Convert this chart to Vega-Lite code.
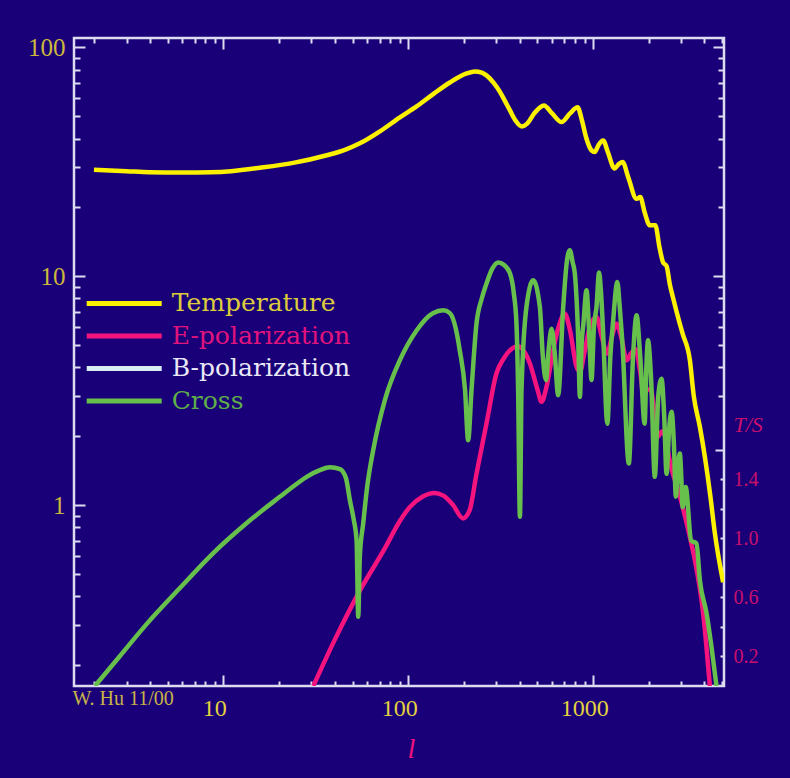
{
 "$schema": "https://vega.github.io/schema/vega-lite/v6.json",
 "width": 650, "height": 648,
 "autosize": {"type": "none"},
 "padding": {"left": 74, "top": 38, "right": 66, "bottom": 92},
 "background": "#1a0078",
 "config": {"view": {"stroke": "#dcdcf0", "strokeWidth": 2.5}, "axis": {"grid": false, "domain": false, "tickColor": "#dcdcf0", "tickWidth": 2, "labelFlush": false}},
 "data": {"values": [
  {"s":"E-polarization","l":30.7,"v":0.162},{"s":"E-polarization","l":40,"v":0.257},{"s":"E-polarization","l":55,"v":0.425},{"s":"E-polarization","l":75,"v":0.65},{"s":"E-polarization","l":90,"v":0.85},{"s":"E-polarization","l":102,"v":0.98},{"s":"E-polarization","l":120,"v":1.09},{"s":"E-polarization","l":138,"v":1.13},{"s":"E-polarization","l":155,"v":1.1},{"s":"E-polarization","l":175,"v":1.0},{"s":"E-polarization","l":198,"v":0.875},{"s":"E-polarization","l":215,"v":0.95},{"s":"E-polarization","l":234,"v":1.37},{"s":"E-polarization","l":265,"v":2.27},{"s":"E-polarization","l":300,"v":3.76},{"s":"E-polarization","l":330,"v":4.4},{"s":"E-polarization","l":355,"v":4.75},{"s":"E-polarization","l":393,"v":4.95},{"s":"E-polarization","l":430,"v":4.6},{"s":"E-polarization","l":455,"v":4.16},{"s":"E-polarization","l":500,"v":3.2},{"s":"E-polarization","l":526,"v":2.83},{"s":"E-polarization","l":560,"v":3.3},{"s":"E-polarization","l":608,"v":4.75},{"s":"E-polarization","l":650,"v":6.0},{"s":"E-polarization","l":702,"v":6.87},{"s":"E-polarization","l":750,"v":5.8},{"s":"E-polarization","l":813,"v":4.02},{"s":"E-polarization","l":848,"v":3.82},{"s":"E-polarization","l":900,"v":4.7},{"s":"E-polarization","l":960,"v":6.0},{"s":"E-polarization","l":1043,"v":6.64},{"s":"E-polarization","l":1110,"v":5.5},{"s":"E-polarization","l":1190,"v":4.6},{"s":"E-polarization","l":1260,"v":5.4},{"s":"E-polarization","l":1337,"v":6.2},{"s":"E-polarization","l":1420,"v":5.4},{"s":"E-polarization","l":1520,"v":4.3},{"s":"E-polarization","l":1600,"v":4.6},{"s":"E-polarization","l":1700,"v":4.8},{"s":"E-polarization","l":1790,"v":3.9},{"s":"E-polarization","l":1880,"v":3.0},{"s":"E-polarization","l":1960,"v":3.2},{"s":"E-polarization","l":2050,"v":3.2},{"s":"E-polarization","l":2150,"v":2.5},{"s":"E-polarization","l":2250,"v":2.0},{"s":"E-polarization","l":2350,"v":2.1},{"s":"E-polarization","l":2450,"v":2.0},{"s":"E-polarization","l":2580,"v":1.6},{"s":"E-polarization","l":2700,"v":1.37},{"s":"E-polarization","l":2850,"v":1.2},{"s":"E-polarization","l":3050,"v":0.98},{"s":"E-polarization","l":3265,"v":0.78},{"s":"E-polarization","l":3548,"v":0.575},{"s":"E-polarization","l":3935,"v":0.337},{"s":"E-polarization","l":4276,"v":0.162},
  {"s":"Cross","l":2.025,"v":0.162},{"s":"Cross","l":2.765,"v":0.219},{"s":"Cross","l":3.85,"v":0.302},{"s":"Cross","l":5.83,"v":0.434},{"s":"Cross","l":8.83,"v":0.617},{"s":"Cross","l":13.4,"v":0.835},{"s":"Cross","l":20.3,"v":1.09},{"s":"Cross","l":24.4,"v":1.222},{"s":"Cross","l":28.7,"v":1.339},{"s":"Cross","l":33.3,"v":1.421},{"s":"Cross","l":37.7,"v":1.465},{"s":"Cross","l":42.8,"v":1.436},{"s":"Cross","l":46.1,"v":1.31},{"s":"Cross","l":48.4,"v":1.05},{"s":"Cross","l":50.6,"v":0.877},{"s":"Cross","l":52.6,"v":0.7},{"s":"Cross","l":53.7,"v":0.325},{"s":"Cross","l":54.8,"v":0.6},{"s":"Cross","l":57.1,"v":0.83},{"s":"Cross","l":60,"v":1.2},{"s":"Cross","l":64.7,"v":1.74},{"s":"Cross","l":75,"v":2.9},{"s":"Cross","l":90.2,"v":4.3},{"s":"Cross","l":111,"v":5.8},{"s":"Cross","l":136,"v":6.9},{"s":"Cross","l":155,"v":7.1},{"s":"Cross","l":168,"v":6.9},{"s":"Cross","l":180,"v":6.0},{"s":"Cross","l":190,"v":4.75},{"s":"Cross","l":203,"v":3.18},{"s":"Cross","l":211,"v":1.92},{"s":"Cross","l":220,"v":3.18},{"s":"Cross","l":234,"v":6.2},{"s":"Cross","l":250,"v":8.0},{"s":"Cross","l":265,"v":9.29},{"s":"Cross","l":285,"v":10.8},{"s":"Cross","l":307,"v":11.5},{"s":"Cross","l":330,"v":11.2},{"s":"Cross","l":355,"v":10.3},{"s":"Cross","l":372,"v":8.5},{"s":"Cross","l":385,"v":6.2},{"s":"Cross","l":393,"v":3.18},{"s":"Cross","l":402,"v":0.89},{"s":"Cross","l":410,"v":3.18},{"s":"Cross","l":436,"v":7.35},{"s":"Cross","l":474,"v":9.6},{"s":"Cross","l":515,"v":7.35},{"s":"Cross","l":535,"v":4.44},{"s":"Cross","l":556,"v":3.52},{"s":"Cross","l":575,"v":4.8},{"s":"Cross","l":596,"v":5.9},{"s":"Cross","l":620,"v":4.6},{"s":"Cross","l":647,"v":3.02},{"s":"Cross","l":689,"v":7.35},{"s":"Cross","l":720,"v":11.5},{"s":"Cross","l":748,"v":13.0},{"s":"Cross","l":775,"v":11.5},{"s":"Cross","l":796,"v":10.3},{"s":"Cross","l":831,"v":5.25},{"s":"Cross","l":848,"v":2.97},{"s":"Cross","l":866,"v":5.0},{"s":"Cross","l":886,"v":6.2},{"s":"Cross","l":921,"v":8.7},{"s":"Cross","l":947,"v":6.2},{"s":"Cross","l":980,"v":3.52},{"s":"Cross","l":1010,"v":6.0},{"s":"Cross","l":1043,"v":7.35},{"s":"Cross","l":1077,"v":10.4},{"s":"Cross","l":1100,"v":8.8},{"s":"Cross","l":1127,"v":6.2},{"s":"Cross","l":1194,"v":2.27},{"s":"Cross","l":1240,"v":4.5},{"s":"Cross","l":1279,"v":6.2},{"s":"Cross","l":1352,"v":9.45},{"s":"Cross","l":1390,"v":7.5},{"s":"Cross","l":1437,"v":5.25},{"s":"Cross","l":1560,"v":1.52},{"s":"Cross","l":1643,"v":4.44},{"s":"Cross","l":1717,"v":6.76},{"s":"Cross","l":1798,"v":4.44},{"s":"Cross","l":1899,"v":2.27},{"s":"Cross","l":1940,"v":4.0},{"s":"Cross","l":1980,"v":5.25},{"s":"Cross","l":2060,"v":3.5},{"s":"Cross","l":2155,"v":1.33},{"s":"Cross","l":2250,"v":3.0},{"s":"Cross","l":2343,"v":3.57},{"s":"Cross","l":2420,"v":2.5},{"s":"Cross","l":2494,"v":1.37},{"s":"Cross","l":2580,"v":2.2},{"s":"Cross","l":2656,"v":2.56},{"s":"Cross","l":2730,"v":1.9},{"s":"Cross","l":2800,"v":1.09},{"s":"Cross","l":2880,"v":1.5},{"s":"Cross","l":2943,"v":1.68},{"s":"Cross","l":3000,"v":1.3},{"s":"Cross","l":3050,"v":0.98},{"s":"Cross","l":3165,"v":1.2},{"s":"Cross","l":3390,"v":0.7},{"s":"Cross","l":3620,"v":0.68},{"s":"Cross","l":3776,"v":0.47},{"s":"Cross","l":4102,"v":0.337},{"s":"Cross","l":4365,"v":0.24},{"s":"Cross","l":4645,"v":0.162},
  {"s":"Temperature","l":2,"v":29.2},{"s":"Temperature","l":3,"v":28.8},{"s":"Temperature","l":4,"v":28.5},{"s":"Temperature","l":6,"v":28.4},{"s":"Temperature","l":8.5,"v":28.5},{"s":"Temperature","l":11,"v":28.8},{"s":"Temperature","l":15.8,"v":29.8},{"s":"Temperature","l":23.9,"v":31.3},{"s":"Temperature","l":36.3,"v":33.8},{"s":"Temperature","l":45.5,"v":35.7},{"s":"Temperature","l":54.8,"v":38.1},{"s":"Temperature","l":70.3,"v":43.0},{"s":"Temperature","l":90.2,"v":49.5},{"s":"Temperature","l":111,"v":55.3},{"s":"Temperature","l":136,"v":62.4},{"s":"Temperature","l":168,"v":70.3},{"s":"Temperature","l":207,"v":77.0},{"s":"Temperature","l":229,"v":78.6},{"s":"Temperature","l":250,"v":77.6},{"s":"Temperature","l":265,"v":75.5},{"s":"Temperature","l":290,"v":70},{"s":"Temperature","l":314,"v":63.8},{"s":"Temperature","l":335,"v":58},{"s":"Temperature","l":355,"v":53.1},{"s":"Temperature","l":380,"v":48},{"s":"Temperature","l":410,"v":45.2},{"s":"Temperature","l":440,"v":46.5},{"s":"Temperature","l":480,"v":51.5},{"s":"Temperature","l":542,"v":55.8},{"s":"Temperature","l":600,"v":51.5},{"s":"Temperature","l":675,"v":47.2},{"s":"Temperature","l":750,"v":51.5},{"s":"Temperature","l":824,"v":54.8},{"s":"Temperature","l":870,"v":48},{"s":"Temperature","l":920,"v":40},{"s":"Temperature","l":980,"v":35.5},{"s":"Temperature","l":1020,"v":34.9},{"s":"Temperature","l":1070,"v":37.5},{"s":"Temperature","l":1133,"v":39.2},{"s":"Temperature","l":1200,"v":35},{"s":"Temperature","l":1305,"v":29.6},{"s":"Temperature","l":1380,"v":31},{"s":"Temperature","l":1442,"v":31.6},{"s":"Temperature","l":1550,"v":27},{"s":"Temperature","l":1717,"v":21.8},{"s":"Temperature","l":1798,"v":22.2},{"s":"Temperature","l":1900,"v":19},{"s":"Temperature","l":2025,"v":16.7},{"s":"Temperature","l":2170,"v":16.7},{"s":"Temperature","l":2280,"v":13.5},{"s":"Temperature","l":2390,"v":11.5},{"s":"Temperature","l":2494,"v":11.1},{"s":"Temperature","l":2600,"v":9.2},{"s":"Temperature","l":2700,"v":8.1},{"s":"Temperature","l":2943,"v":6.2},{"s":"Temperature","l":3050,"v":5.6},{"s":"Temperature","l":3334,"v":4.3},{"s":"Temperature","l":3500,"v":3.0},{"s":"Temperature","l":3776,"v":2.2},{"s":"Temperature","l":4017,"v":1.63},{"s":"Temperature","l":4300,"v":1.1},{"s":"Temperature","l":4550,"v":0.755},{"s":"Temperature","l":5045,"v":0.46}
 ]},
 "layer": [
  {
   "mark": {"type": "line", "strokeWidth": 4.5, "interpolate": "monotone", "clip": true},
   "encoding": {
    "x": {"field": "l", "type": "quantitative", "scale": {"type": "log", "domain": [1.56, 5100], "nice": false},
      "axis": {"orient": "bottom", "values": [10, 100, 1000], "format": "d", "tickSize": -11, "labelFont": "Liberation Serif", "labelFontSize": 24, "labelColor": "#e2d240", "labelPadding": 21, "labelOffset": -9,
        "title": "l", "titleFont": "Liberation Serif", "titleFontStyle": "italic", "titleFontWeight": "normal", "titleFontSize": 28, "titleColor": "#f0147c", "titleX": 337, "titleY": 71, "titleBaseline": "alphabetic", "titleAlign": "center"}},
    "y": {"field": "v", "type": "quantitative", "scale": {"type": "log", "domain": [0.162, 110], "nice": false},
      "axis": {"orient": "left", "values": [1, 10, 100], "format": "d", "tickSize": -11, "labelFont": "Liberation Serif", "labelFontSize": 25, "labelColor": "#ccb83c", "labelPadding": 20, "title": null}},
    "color": {"field": "s", "type": "nominal",
      "scale": {"domain": ["Temperature", "E-polarization", "B-polarization", "Cross"], "range": ["#faf000", "#f5147e", "#d8ecf4", "#68c04c"]},
      "legend": {"orient": "none", "legendX": 35.2, "legendY": 250.4, "title": null, "symbolType": "M-3,0L3,0", "symbolSize": 625, "symbolStrokeWidth": 5, "labelFont": "DejaVu Serif", "labelFontSize": 25, "labelOffset": 32.5, "rowPadding": 4.5, "padding": 0, "labelLimit": 400,
        "encode": {"labels": {"update": {"fill": {"signal": "datum.value === 'Temperature' ? '#dccc3c' : datum.value === 'E-polarization' ? '#e0147c' : datum.value === 'B-polarization' ? '#e8e8f6' : '#5eae4a'"}}}}}}
   }
  },
  {
   "mark": {"type": "point", "opacity": 0, "clip": true},
   "encoding": {
    "x": {"field": "l", "type": "quantitative", "scale": {"type": "log", "domain": [1.56, 5100], "nice": false},
      "axis": {"orient": "bottom", "values": [2,3,4,5,6,7,8,9,20,30,40,50,60,70,80,90,200,300,400,500,600,700,800,900,2000,3000,4000,5000], "labels": false, "tickSize": -5, "title": null}},
    "y": {"field": "v", "type": "quantitative", "scale": {"type": "log", "domain": [0.162, 110], "nice": false},
      "axis": {"orient": "left", "values": [0.2,0.3,0.4,0.5,0.6,0.7,0.8,0.9,2,3,4,5,6,7,8,9,20,30,40,50,60,70,80,90], "labels": false, "tickSize": -6, "title": null}}
   }
  },
  {
   "mark": {"type": "point", "opacity": 0, "clip": true},
   "encoding": {
    "x": {"field": "l", "type": "quantitative", "scale": {"type": "log", "domain": [1.56, 5100], "nice": false},
      "axis": {"orient": "top", "values": [10, 100, 1000], "labels": false, "tickSize": -11, "title": null}},
    "y": {"field": "v", "type": "quantitative", "scale": {"type": "log", "domain": [0.162, 110], "nice": false},
      "axis": {"orient": "right", "values": [10, 100], "labels": false, "tickSize": -11, "title": null}}
   }
  },
  {
   "mark": {"type": "point", "opacity": 0, "clip": true},
   "encoding": {
    "x": {"field": "l", "type": "quantitative", "scale": {"type": "log", "domain": [1.56, 5100], "nice": false},
      "axis": {"orient": "top", "values": [2,3,4,5,6,7,8,9,20,30,40,50,60,70,80,90,200,300,400,500,600,700,800,900,2000,3000,4000,5000], "labels": false, "tickSize": -5, "title": null}},
    "y": {"field": "v", "type": "quantitative", "scale": {"type": "log", "domain": [0.162, 110], "nice": false},
      "axis": {"orient": "right", "values": [3,4,5,6,7,8,9,20,30,40,50,60,70,80,90], "labels": false, "tickSize": -6, "title": null}}
   }
  },
  {
   "mark": {"type": "point", "opacity": 0, "clip": true},
   "encoding": {
    "x": {"field": "l", "type": "quantitative", "scale": {"type": "log", "domain": [1.56, 5100], "nice": false},
      "axis": {"orient": "bottom", "ticks": false, "labels": false, "title": "W. Hu 11/00", "titleFont": "Liberation Serif", "titleFontSize": 20, "titleFontWeight": "normal", "titleColor": "#c8b448", "titleX": -2, "titleY": 18, "titleAlign": "left", "titleBaseline": "alphabetic"}},
    "y": {"field": "v", "type": "quantitative", "scale": {"type": "linear", "domain": [0, 4.39], "nice": false, "zero": false},
      "axis": {"orient": "right", "values": [0.2,0.4,0.6,0.8,1.0,1.2,1.4], "tickSize": -4, "labelExpr": "round(datum.value*10) % 4 == 2 ? format(datum.value, '.1f') : ''", "labelFont": "Liberation Serif", "labelFontSize": 20, "labelColor": "#c8106c", "labelPadding": 13, "title": null}}
   }
  },
  {
   "mark": {"type": "point", "opacity": 0, "clip": true},
   "encoding": {
    "x": {"field": "l", "type": "quantitative", "scale": {"type": "log", "domain": [1.56, 5100], "nice": false}, "axis": null},
    "y": {"field": "v", "type": "quantitative", "scale": {"type": "linear", "domain": [0, 4.39], "nice": false, "zero": false},
      "axis": {"orient": "right", "values": [1.6], "labels": false, "tickSize": -9, "title": "T/S", "titleFont": "Liberation Serif", "titleFontStyle": "italic", "titleFontWeight": "normal", "titleFontSize": 22, "titleColor": "#c8106c", "titleAngle": 0, "titleX": 9, "titleY": 386, "titleAlign": "left", "titleBaseline": "middle"}}
   }
  }
 ],
 "resolve": {"scale": {"x": "independent", "y": "independent"}}
}
